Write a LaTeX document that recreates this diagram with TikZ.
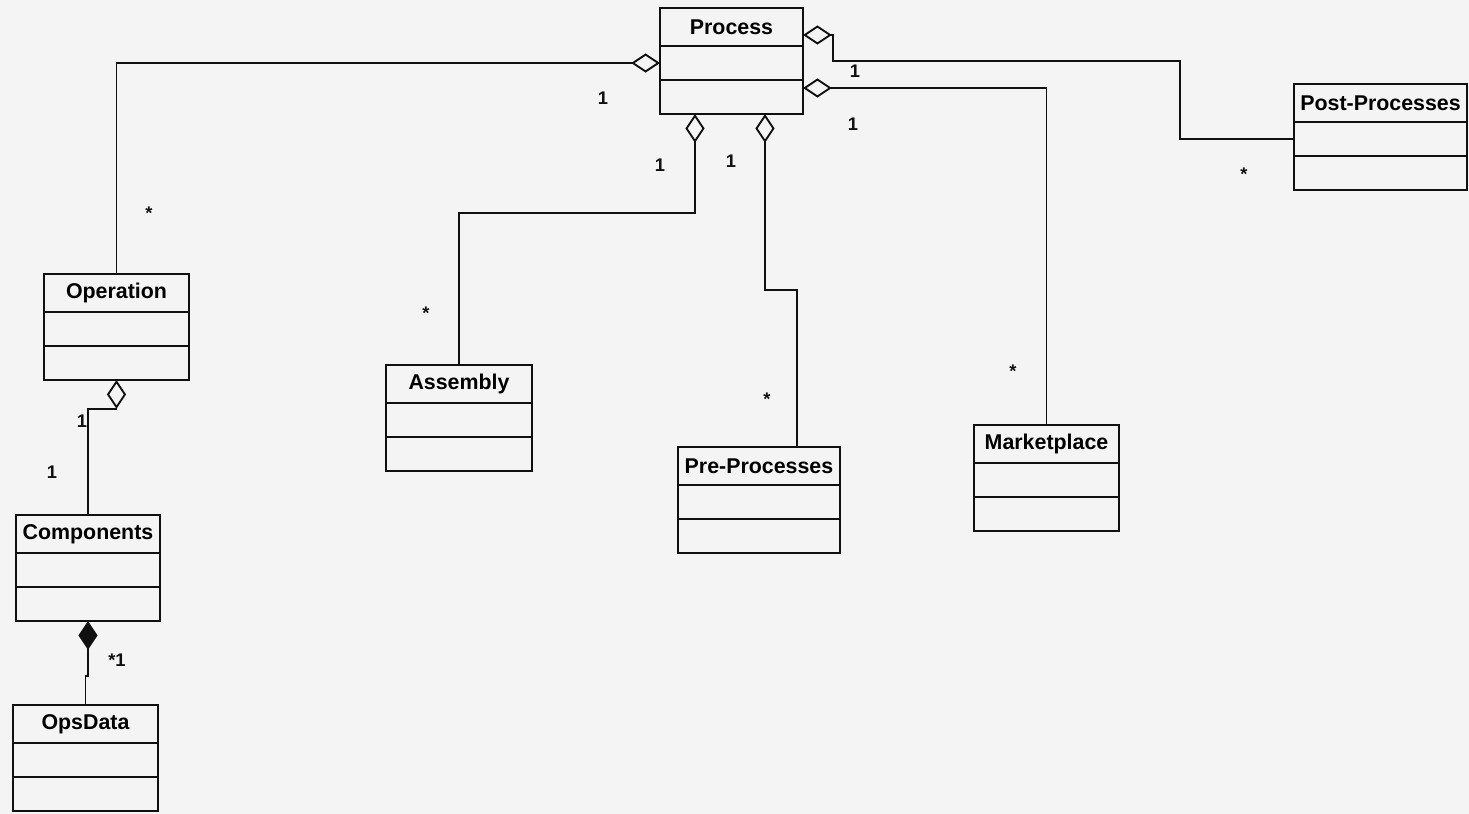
\documentclass[tikz,border=0pt]{standalone}
\usepackage{fontspec}
\setmainfont{Liberation Sans}
\usetikzlibrary{arrows.meta, positioning}
\usepackage{xcolor}
\definecolor{umlpaper}{HTML}{F4F4F4}
\definecolor{umlink}{HTML}{101010}

\begin{document}
\begin{tikzpicture}[
        x=0.025cm, y=-0.025cm,
        clsname/.style={draw=umlink, line width=1.6pt, inner sep=0pt, outer sep=0pt,
                        minimum height=0.95cm, font=\fontsize{15.2}{18}\selectfont\bfseries},
        clspart/.style={draw=umlink, line width=1.6pt, inner sep=0pt, outer sep=0pt,
                        minimum height=0.85cm},
        wd/.style={minimum width=#1*0.025cm},
        mult/.style={font=\fontsize{13}{15}\selectfont\bfseries, inner sep=0pt, text=umlink},
        agg/.style={{Diamond[open, length=0.72cm, width=0.48cm]}-, umlink, line width=1.35pt},
        comp/.style={{Diamond[length=0.72cm, width=0.48cm]}-, umlink, line width=1.35pt},
      ]
        \fill[umlpaper] (0,0) rectangle (1469,814);

        \node[clsname, wd=143, anchor=north west] (process) at (660,8) {Process};
        \node[clspart, wd=143, below=0pt of process] (process-attr) {};
        \node[clspart, wd=143, below=0pt of process-attr] (process-ops) {};

        \node[clsname, wd=173, anchor=north west] (post) at (1294,84) {Post-Processes};
        \node[clspart, wd=173, below=0pt of post] (post-attr) {};
        \node[clspart, wd=173, below=0pt of post-attr] (post-ops) {};

        \node[clsname, wd=145, anchor=north west] (operation) at (44,274) {Operation};
        \node[clspart, wd=145, below=0pt of operation] (operation-attr) {};
        \node[clspart, wd=145, below=0pt of operation-attr] (operation-ops) {};

        \node[clsname, wd=144, anchor=north west] (components) at (16,515) {Components};
        \node[clspart, wd=144, below=0pt of components] (components-attr) {};
        \node[clspart, wd=144, below=0pt of components-attr] (components-ops) {};

        \node[clsname, wd=145, anchor=north west] (opsdata) at (13,705) {OpsData};
        \node[clspart, wd=145, below=0pt of opsdata] (opsdata-attr) {};
        \node[clspart, wd=145, below=0pt of opsdata-attr] (opsdata-ops) {};

        \node[clsname, wd=146, anchor=north west] (assembly) at (386,365) {Assembly};
        \node[clspart, wd=146, below=0pt of assembly] (assembly-attr) {};
        \node[clspart, wd=146, below=0pt of assembly-attr] (assembly-ops) {};

        \node[clsname, wd=162, anchor=north west] (preproc) at (678,447) {Pre-Processes};
        \node[clspart, wd=162, below=0pt of preproc] (preproc-attr) {};
        \node[clspart, wd=162, below=0pt of preproc-attr] (preproc-ops) {};

        \node[clsname, wd=145, anchor=north west] (market) at (974,425) {Marketplace};
        \node[clspart, wd=145, below=0pt of market] (market-attr) {};
        \node[clspart, wd=145, below=0pt of market-attr] (market-ops) {};

        \draw[agg] (process-attr.west) -| (operation.north);
        \draw[agg] (process.east |- 0,35) -- ++(30,0) |- (1180,61) |- (post-attr.west);
        \draw[agg] (process.east |- 0,88) -| (market.north);
        \draw[agg] (process-ops.south -| 695,0) -- ++(0,99) -| (assembly.north);
        \draw[agg] (process-ops.south -| 765,0) |- (797,290) -- (797,0 |- preproc.north);
        \draw[agg] (operation-ops.south) -- ++(0,29) -| (components.north);
        \draw[comp] (components-ops.south) -- ++(0,55) -| (opsdata.north);

        \node[mult] (m-op-one)   at (603,98)  {1};
        \node[mult] (m-op-many)  at (149,213) {*};
        \node[mult] (m-post-one) at (855,71)  {1};
        \node[mult] (m-post-many) at (1244,174) {*};
        \node[mult] (m-mkt-one)  at (853,124) {1};
        \node[mult] (m-mkt-many) at (1013,371) {*};
        \node[mult] (m-asm-one)  at (660,165) {1};
        \node[mult] (m-asm-many) at (426,313) {*};
        \node[mult] (m-pre-one)  at (731,161) {1};
        \node[mult] (m-pre-many) at (767,399) {*};
        \node[mult] (m-cmp-top)  at (82,421)  {1};
        \node[mult] (m-cmp-low)  at (52,472)  {1};
        \node[mult] (m-ops-one)  at (117,660) {*1};
      \end{tikzpicture}
\end{document}
